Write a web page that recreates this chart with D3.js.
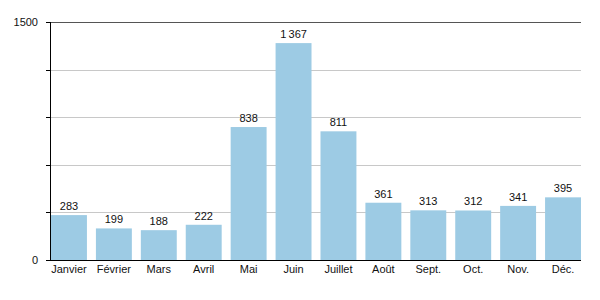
<!DOCTYPE html>
<html>
<head>
<meta charset="utf-8">
<script src="https://cdn.jsdelivr.net/npm/d3@7"></script>
<style>
  body { margin: 0; background: #fff; }
  text { font-family: "Liberation Sans", Arial, sans-serif; font-size: 11px; fill: #111; }
</style>
</head>
<body>
<div id="chart"></div>
<script>
// data
const months = ["Janvier", "Février", "Mars", "Avril", "Mai", "Juin", "Juillet", "Août", "Sept.", "Oct.", "Nov.", "Déc."];
const values = [283, 199, 188, 222, 838, 1367, 811, 361, 313, 312, 341, 395];
const gridTicks = [0, 300, 600, 900, 1200, 1500];
const labelTicks = [0, 1500];

const margin = {top: 22, right: 19, bottom: 40, left: 50},
  width = 600 - margin.left - margin.right,
  height = 300 - margin.top - margin.bottom;

var svg = d3.select("#chart")
.append("svg")
  .attr("width", 600)
  .attr("height", 300)
.append("g")
  .attr("transform", "translate(" + margin.left + "," + margin.top + ")");

var x = d3.scaleBand()
  .domain(months)
  .range([1, width])
  .paddingInner(0.2)
  .paddingOuter(0);

var y = d3.scaleLinear()
  .domain([0, 1500])
  .range([height, 0]);

// grid lines
svg.selectAll(".grid")
  .data(gridTicks.slice(1))
  .join("line")
  .attr("x1", 0)
  .attr("x2", width)
  .attr("y1", d => Math.round(y(d)) + 0.5)
  .attr("y2", d => Math.round(y(d)) + 0.5)
  .style("stroke", d => d === 1500 ? "#555" : "#c8c8c8")
  .style("stroke-width", 1);

// tick marks
svg.selectAll(".tick")
  .data(gridTicks)
  .join("line")
  .attr("x1", -4)
  .attr("x2", 0)
  .attr("y1", d => Math.round(y(d)) + 0.5)
  .attr("y2", d => Math.round(y(d)) + 0.5)
  .style("stroke", "#000");

svg.selectAll(".ylab")
  .data(labelTicks)
  .join("text")
  .attr("x", -12)
  .attr("y", d => y(d))
  .attr("dy", "0.35em")
  .style("text-anchor", "end")
  .text(d => d);

// bars
svg.selectAll(".bar")
  .data(values)
  .join("rect")
  .attr("x", (d, i) => x(months[i]))
  .attr("width", x.bandwidth())
  .attr("y", d => y(d))
  .attr("height", d => height - y(d))
  .style("fill", "#9dcbe4");

// value labels
var fmt = d3.formatLocale({decimal: ",", thousands: "\u2009", grouping: [3], currency: ["", " €"]}).format(",d");
svg.selectAll(".val")
  .data(values)
  .join("text")
  .attr("x", (d, i) => x(months[i]) + x.bandwidth() / 2)
  .attr("y", d => y(d) - 5)
  .style("text-anchor", "middle")
  .text(d => fmt(d));

// axes lines
svg.append("line")
  .attr("x1", 0.5).attr("x2", 0.5)
  .attr("y1", 0).attr("y2", height)
  .style("stroke", "#000");
svg.append("line")
  .attr("x1", 0).attr("x2", width)
  .attr("y1", height + 0.5).attr("y2", height + 0.5)
  .style("stroke", "#000");

// month labels
svg.selectAll(".xlab")
  .data(months)
  .join("text")
  .attr("x", d => x(d) + x.bandwidth() / 2)
  .attr("y", height + 13)
  .style("text-anchor", "middle")
  .text(d => d);
</script>
</body>
</html>
